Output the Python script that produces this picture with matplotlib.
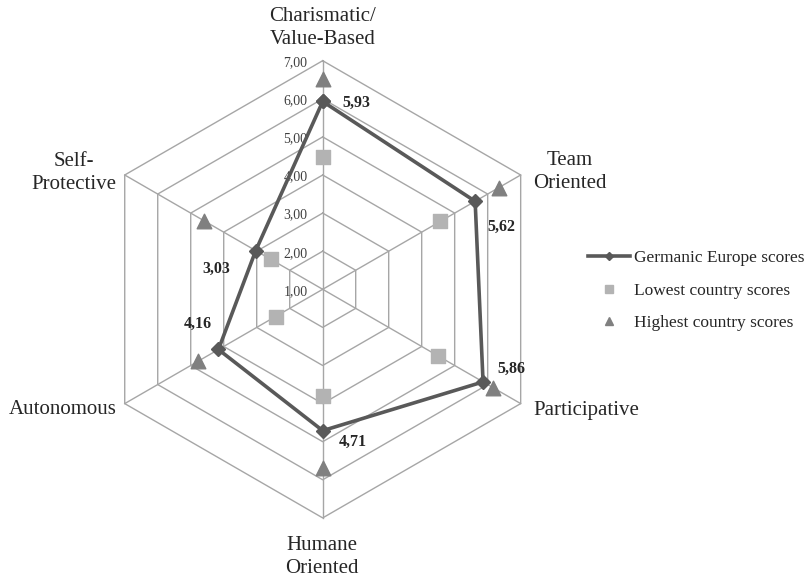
import matplotlib.pyplot as plt
import numpy as np
from matplotlib.lines import Line2D

plt.rcParams['font.family'] = ['Liberation Serif', 'DejaVu Serif']

categories = ['Charismatic/\nValue-Based', 'Team\nOriented', 'Participative',
              'Humane\nOriented', 'Autonomous', 'Self-\nProtective']
germanic = [5.93, 5.62, 5.86, 4.71, 4.16, 3.03]
lowest = [4.46, 4.57, 4.50, 3.80, 2.43, 2.57]
highest = [6.51, 6.33, 6.16, 5.70, 4.77, 4.59]
germanic_labels = ['5,93', '5,62', '5,86', '4,71', '4,16', '3,03']
rings = [2, 3, 4, 5, 6, 7]
tick_values = [1, 2, 3, 4, 5, 6, 7]
tick_labels = ['1,00', '2,00', '3,00', '4,00', '5,00', '6,00', '7,00']

c_line = '#595959'
c_low = '#b3b3b3'
c_high = '#808080'
c_grid = '#a6a6a6'

W, H = 812, 579
fig = plt.figure(figsize=(W / 100, H / 100), dpi=100)

# axes placed so the hexagon centre sits at (322.7, 289.3) px, radius 228.6 px
cx, cy, rad = 322.7, 289.3, 228.6
ax = fig.add_axes([(cx - rad) / W, 1 - (cy + rad) / H, 2 * rad / W, 2 * rad / H],
                  projection='polar')
ax.set_theta_zero_location('N')
ax.set_theta_direction(-1)
ax.set_ylim(1, 7)
ax.grid(False)
ax.set_xticks([])
ax.set_yticks([])
ax.spines['polar'].set_visible(False)

n = len(categories)
theta = np.deg2rad(np.arange(n) * 360.0 / n)
theta_c = np.append(theta, theta[0])

# hexagon grid
for r in rings:
    ax.plot(theta_c, [r] * (n + 1), color=c_grid, lw=1.0, zorder=1, clip_on=False)
for t in theta:
    ax.plot([t, t], [1, 7], color=c_grid, lw=1.0, zorder=1, clip_on=False)

# radial tick labels along the top spoke
for v, lab in zip(tick_values, tick_labels):
    ax.annotate(lab, xy=(0, v), xytext=(-11, -1.5), textcoords='offset points',
                ha='right', va='center', fontsize=10, color='#404040',
                annotation_clip=False)

ax.scatter(theta, lowest, marker='s', s=100, color=c_low, zorder=3, clip_on=False)
ax.scatter(theta, highest, marker='^', s=110, color=c_high, zorder=3, clip_on=False)
ax.plot(theta_c, np.append(germanic, germanic[0]), color=c_line, lw=2.6,
        marker='D', markersize=7.5, zorder=4, clip_on=False)

# value labels next to the Germanic points
offsets = [(24, -1.3), (19.2, -18.3), (20.6, 9.1), (21.6, -7.9), (-14.5, 18.4), (-28.6, -13)]
for t, v, lab, off in zip(theta, germanic, germanic_labels, offsets):
    ax.annotate(lab, xy=(t, v), xytext=off, textcoords='offset points',
                ha='center', va='center', fontsize=11.5, fontweight='bold',
                color='#262626', annotation_clip=False)

# category labels
label_pos = [(322.5, 28), (570, 172), (586, 410), (322, 557), (63, 410), (74, 173)]
for lab, (px, py) in zip(categories, label_pos):
    fig.text(px / W, 1 - py / H, lab, ha='center', va='center', fontsize=15,
             color='#262626', linespacing=1.3)

handles = [
    Line2D([], [], color=c_line, lw=2.6, marker='D', markersize=7.5),
    Line2D([], [], ls='none', color=c_low, marker='s', markersize=10),
    Line2D([], [], ls='none', color=c_high, marker='^', markersize=10.5),
]
fig.legend(handles, ['Germanic Europe scores', 'Lowest country scores', 'Highest country scores'],
           loc='upper left', bbox_to_anchor=(588 / W, 1 - 250 / H), frameon=False,
           fontsize=12.5, markerscale=0.6, handlelength=2.4, handletextpad=0.25,
           labelspacing=0.95, borderpad=0, borderaxespad=0, labelcolor='#262626')

fig.savefig('out.png', dpi=100)
